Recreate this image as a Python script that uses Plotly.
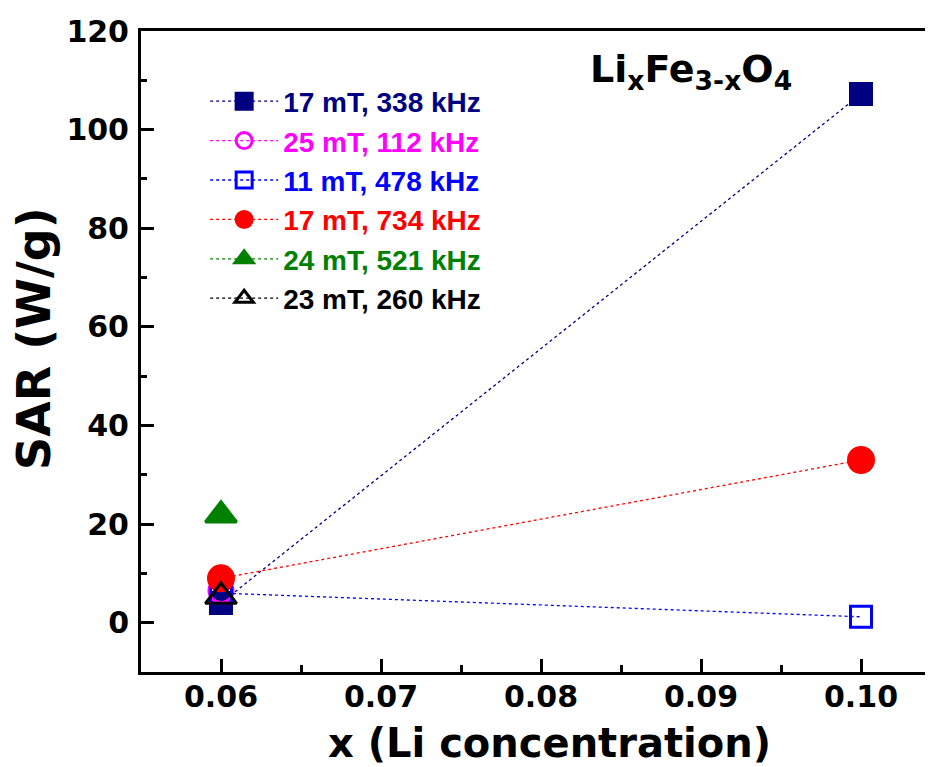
import plotly.graph_objects as go

# Data
labels = ["17 mT, 338 kHz", "25 mT, 112 kHz", "11 mT, 478 kHz",
          "17 mT, 734 kHz", "24 mT, 521 kHz", "23 mT, 260 kHz"]
colors = ["#000080", "#FF00FF", "#0000FF", "#FF0000", "#008000", "#000000"]
symbols = ["square", "circle-open", "square-open", "circle", "triangle-up", "triangle-up-open"]
sizes = [21, 24, 21, 25, 27, 27]
x_vals = [[0.06, 0.10], [0.06], [0.06, 0.10], [0.06, 0.10], [0.06], [0.06]]
y_vals = [[4.0, 107.2], [6.5], [6.0, 1.2], [9.0, 33.0], [21.8], [5.3]]

fig = go.Figure()
for i in range(len(labels)):
    fig.add_trace(go.Scatter(
        x=x_vals[i], y=y_vals[i], mode="lines+markers",
        name=f"<span style='color:{colors[i]}'>{labels[i]}</span>",
        line=dict(color=colors[i], width=1.3, dash="dot"),
        marker=dict(symbol=symbols[i], size=sizes[i], color=colors[i],
                    line=dict(width=3, color=colors[i])),
        legendgroup=str(i),
    ))

fig.add_annotation(
    text="Li<sub>x</sub>Fe<sub>3-x</sub>O<sub>4</sub>",
    xref="paper", yref="paper", x=0.695, y=0.937, xanchor="center", yanchor="middle",
    showarrow=False, font=dict(family="DejaVu Sans", size=38, color="black", weight="bold"),
)
fig.add_annotation(
    text="x (Li concentration)",
    xref="paper", yref="paper", x=0.516, y=-0.111, xanchor="center", yanchor="middle",
    showarrow=False, font=dict(family="DejaVu Sans", size=40, color="black", weight="bold"),
)
fig.add_annotation(
    text="SAR (W/g)", textangle=-90,
    xref="paper", yref="paper", x=-0.136, y=0.52, xanchor="center", yanchor="middle",
    showarrow=False, font=dict(family="DejaVu Sans", size=46, color="black", weight="bold"),
)

axis_common = dict(
    showline=True, linecolor="black", linewidth=3,
    ticks="inside", ticklen=13, tickwidth=3, tickcolor="black",
    showgrid=False, zeroline=False,
    tickfont=dict(family="DejaVu Sans", size=30, color="black", weight="bold"),
    automargin=False,
)

fig.update_layout(
    width=925, height=759,
    margin=dict(l=133, r=0, t=23, b=95),
    paper_bgcolor="white", plot_bgcolor="white",
    showlegend=True,
    legend=dict(x=0.081, y=0.929, xanchor="left", yanchor="top",
                bgcolor="rgba(0,0,0,0)",
                font=dict(family="Liberation Sans", size=28, weight="bold"),
                tracegroupgap=0, itemwidth=68),
    xaxis=dict(**axis_common, range=[0.055, 0.1045], dtick=0.01, tick0=0.06,
               tickformat=".2f", mirror=True, ticklabelstandoff=-4,
               minor=dict(ticks="inside", ticklen=7, tickwidth=3, tickcolor="black", dtick=0.005)),
    yaxis=dict(**axis_common, range=[-10, 120], dtick=20, tick0=0, ticklabelstandoff=3,
               minor=dict(ticks="inside", ticklen=6, tickwidth=3, tickcolor="black", dtick=10)),
)

fig.write_html("out.html")
